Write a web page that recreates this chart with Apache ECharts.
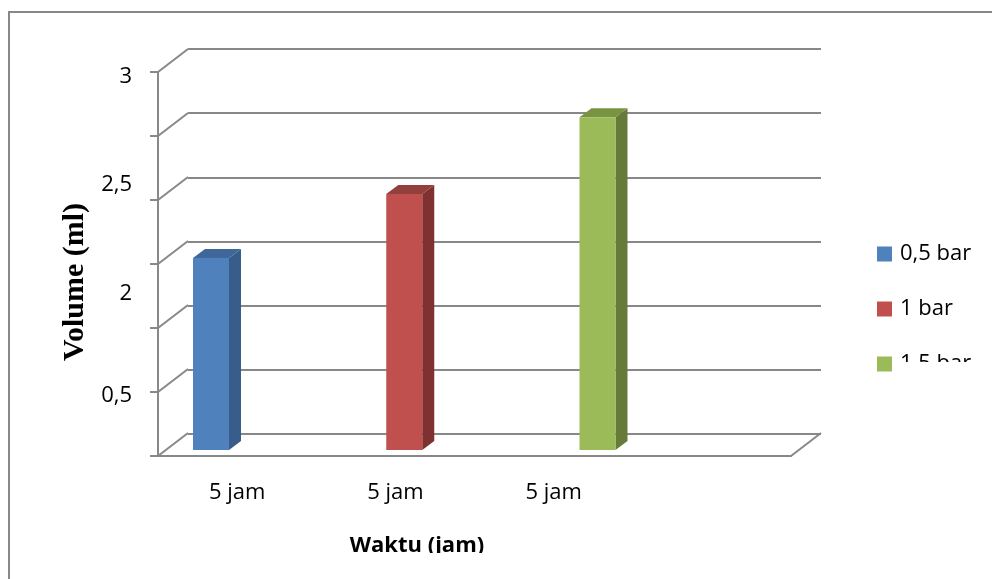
<!DOCTYPE html>
<html>
<head>
<meta charset="utf-8">
<script src="https://cdn.jsdelivr.net/npm/echarts@6/dist/echarts.min.js"></script>
<style>
html, body { margin: 0; padding: 0; background: #fff; }
#chart { width: 992px; height: 579px; }
</style>
</head>
<body>
<div id="chart"></div>
<script>
// data
var categories = ['5 jam', '5 jam', '5 jam', ''];
var seriesNames = ['0,5 bar', '1 bar', '1,5 bar'];
var seriesValues = [1.5, 2.0, 2.6];
var seriesCategory = [0, 1, 2];
var yTicks = [0, 0.5, 1, 1.5, 2, 2.5, 3];
var yLabelTexts = ['3', '2,5', '2', '0,5'];

var chart = echarts.init(document.getElementById('chart'));

var gridColor = '#888888';
var font = 'Open Sans';
var faces = [
    { front: '#4F81BD', side: '#385D8A', top: '#3F6799' },
    { front: '#C0504D', side: '#7E3130', top: '#93403D' },
    { front: '#9BBB59', side: '#677B38', top: '#789440' }
];

// 3D kolom: muka depan, samping, atas
function bar3d(s) {
    return function (params, api) {
        var cat = api.value(0);
        var val = api.value(1);
        var band = api.size([1, 0])[0];
        var base = api.coord([cat, 0]);
        var top = api.coord([cat, val]);
        var w = 36, dx = 12, dy = -9;
        var x0 = base[0] - band / 2 + 35 + 35 * s;
        var x1 = x0 + w;
        var yb = base[1] - 6, yt = top[1] - 6;
        var c = faces[s];
        return {
            type: 'group',
            children: [
                { type: 'polygon', shape: { points: [[x1, yb], [x1 + dx, yb + dy], [x1 + dx, yt + dy], [x1, yt]] }, style: { fill: c.side } },
                { type: 'polygon', shape: { points: [[x0, yt], [x1, yt], [x1 + dx, yt + dy], [x0 + dx, yt + dy]] }, style: { fill: c.top } },
                { type: 'rect', shape: { x: x0, y: yt, width: w, height: yb - yt }, style: { fill: c.front } }
            ]
        };
    };
}

// garis diagonal dinding kiri dan lantai
function walls(params, api) {
    var cs = params.coordSys;
    var v = api.value(1);
    var p = api.coord([0, v]);
    var kids = [
        { type: 'line', shape: { x1: cs.x, y1: p[1], x2: cs.x + 30, y2: p[1] - 23 }, style: { stroke: gridColor, lineWidth: 2 } }
    ];
    if (v === 0) {
        kids.push({ type: 'line', shape: { x1: cs.x + cs.width, y1: p[1], x2: cs.x + cs.width + 30, y2: p[1] - 23 }, style: { stroke: gridColor, lineWidth: 2 } });
    }
    return { type: 'group', children: kids };
}

var series = [{
    type: 'custom',
    name: 'walls',
    xAxisIndex: 1,
    yAxisIndex: 1,
    renderItem: walls,
    data: yTicks.map(function (v) { return [0, v]; }),
    encode: { x: 0, y: 1 },
    silent: true,
    z: 1
}];
seriesNames.forEach(function (name, s) {
    series.push({
        type: 'custom',
        name: name,
        xAxisIndex: 1,
        yAxisIndex: 1,
        renderItem: bar3d(s),
        itemStyle: { color: faces[s].front },
        data: [[seriesCategory[s], seriesValues[s]]],
        encode: { x: 0, y: 1 },
        z: 3
    });
});

var graphics = [
    { type: 'rect', z: 0, shape: { x: 9, y: 12, width: 1000, height: 600 }, style: { fill: 'none', stroke: gridColor, lineWidth: 2 } },
    { type: 'text', x: 75, y: 282, rotation: Math.PI / 2, z: 10,
      style: { text: 'Volume (ml)', fontFamily: 'Liberation Serif', fontWeight: 'bold', fontSize: 30, fill: '#000', align: 'center', verticalAlign: 'middle' } },
    { type: 'text', x: 417, y: 546, z: 10,
      style: { text: 'Waktu (jam)', fontFamily: font, fontWeight: 'bold', fontSize: 22, fill: '#000', align: 'center', verticalAlign: 'middle' } },
    // potongan bawah teks (terpotong di gambar asli)
    { type: 'rect', z: 100, shape: { x: 300, y: 553, width: 260, height: 30 }, style: { fill: '#fff' } },
    { type: 'rect', z: 100, shape: { x: 895, y: 362, width: 100, height: 30 }, style: { fill: '#fff' } }
];
var labelY = [77, 185, 294, 396];
yLabelTexts.forEach(function (t, i) {
    graphics.push({ type: 'text', x: 132, y: labelY[i], z: 10,
        style: { text: t, fontFamily: font, fontSize: 22, fill: '#000', align: 'right', verticalAlign: 'middle' } });
});

var option = {
    backgroundColor: '#fff',
    animation: false,
    grid: [
        { left: 188, right: 171, top: 49, bottom: 145 },
        { left: 158, right: 201, top: 72, bottom: 123 }
    ],
    xAxis: [
        { gridIndex: 0, type: 'category', data: categories, show: false },
        {
            gridIndex: 1, type: 'category', data: categories,
            axisLine: { lineStyle: { color: gridColor, width: 2 } },
            axisTick: { show: false },
            axisLabel: { color: '#000', fontFamily: font, fontSize: 22, margin: 26 }
        }
    ],
    yAxis: [
        {
            gridIndex: 0, type: 'value', min: 0, max: 3, interval: 0.5,
            axisLine: { show: false }, axisTick: { show: false }, axisLabel: { show: false },
            splitLine: { show: true, lineStyle: { color: gridColor, width: 2 } }
        },
        {
            gridIndex: 1, type: 'value', min: 0, max: 3, interval: 0.5,
            axisLine: { show: true, lineStyle: { color: gridColor, width: 2 } },
            axisTick: { show: true, length: 8, lineStyle: { color: gridColor, width: 2 } },
            axisLabel: { show: false },
            splitLine: { show: false }
        }
    ],
    legend: {
        data: seriesNames,
        orient: 'vertical',
        left: 872,
        top: 238,
        icon: 'rect',
        itemWidth: 15,
        itemHeight: 15,
        itemGap: 33,
        textStyle: { color: '#000', fontFamily: font, fontSize: 22, padding: [2, 0, 0, 3] }
    },
    graphic: graphics,
    series: series
};

chart.setOption(option);
</script>
</body>
</html>
